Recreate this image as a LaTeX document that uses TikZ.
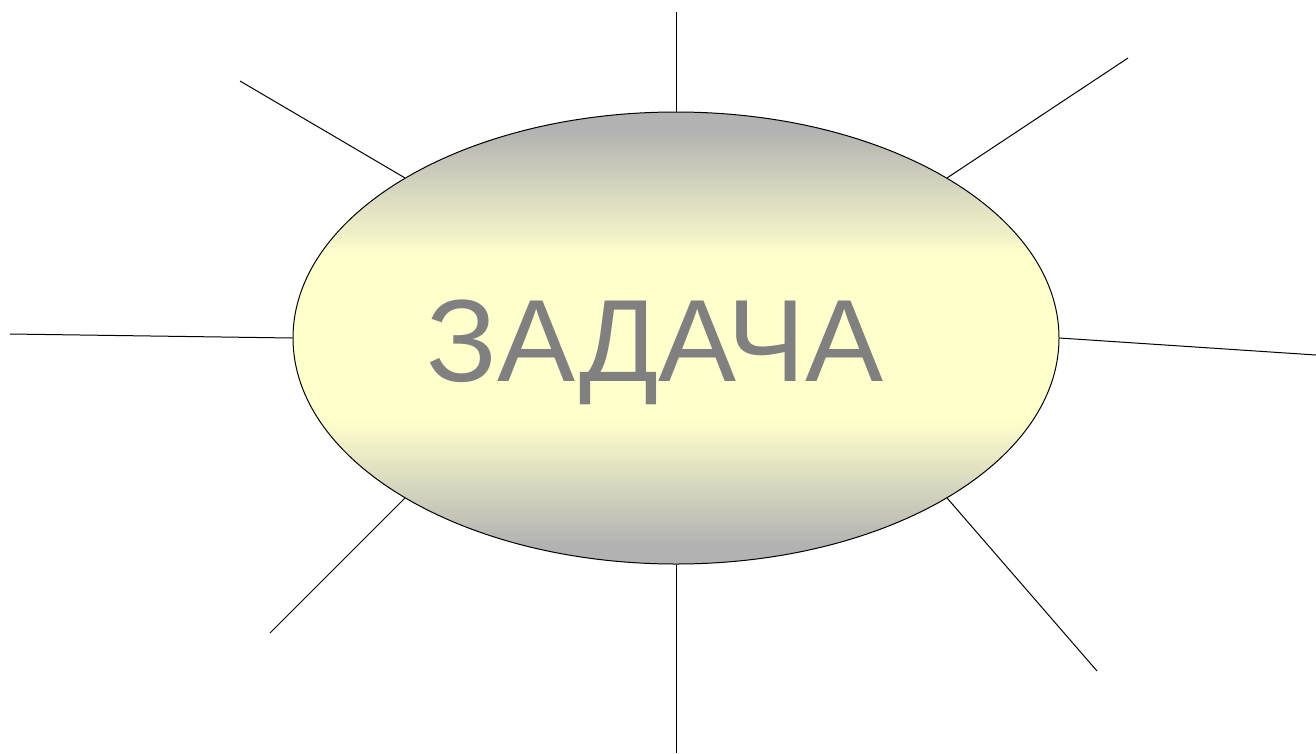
\documentclass[tikz,border=0pt]{standalone}
\usepackage{fontspec}
\setmainfont{Liberation Sans}
\usetikzlibrary{shapes.geometric}
\usetikzlibrary{positioning}

\definecolor{rimgray}{RGB}{178,178,178}
\definecolor{paleyellow}{RGB}{255,255,204}
\definecolor{textgray}{RGB}{128,128,128}

\pgfdeclareverticalshading{taskshade}{100bp}{%
  color(0bp)=(rimgray); color(27bp)=(rimgray);
  color(41bp)=(paleyellow); color(59bp)=(paleyellow);
  color(73bp)=(rimgray); color(100bp)=(rimgray)}

\tikzset{
  tasknode/.style={ellipse, draw, line width=1pt, inner sep=0pt,
    minimum width=766pt, minimum height=452pt, shading=taskshade},
  tasklabel/.style={text=textgray, inner sep=0pt,
    font=\fontsize{117}{117}\selectfont},
  ray/.style={line width=1pt}
}

\begin{document}
\begin{tikzpicture}[x=1pt,y=-1pt]
  \useasboundingbox (0,0) rectangle (1316,753);

  % 楕円
  \node[tasknode] (task) at (676,338) {};
  \node[tasklabel] (tasktext) at ([xshift=-21pt,yshift=-14pt]task.center) {ЗАДАЧА};

  % 端点
  \coordinate (n)  at (676,12);
  \coordinate (ne) at (1128,58);
  \coordinate (e)  at (1316,355);
  \coordinate (se) at (1097,671);
  \coordinate (s)  at (676,753);
  \coordinate (sw) at (270,633);
  \coordinate (w)  at (10,334);
  \coordinate (nw) at (240,81);

  % 直線
  \draw[ray] (task.north) -- (n);
  \draw[ray] (task.north east) -- (ne);
  \draw[ray] (task.east) -- (e);
  \draw[ray] (task.south east) -- (se);
  \draw[ray] (task.south) -- (s);
  \draw[ray] (task.south west) -- (sw);
  \draw[ray] (task.west) -- (w);
  \draw[ray] (task.north west) -- (nw);
\end{tikzpicture}
\end{document}
